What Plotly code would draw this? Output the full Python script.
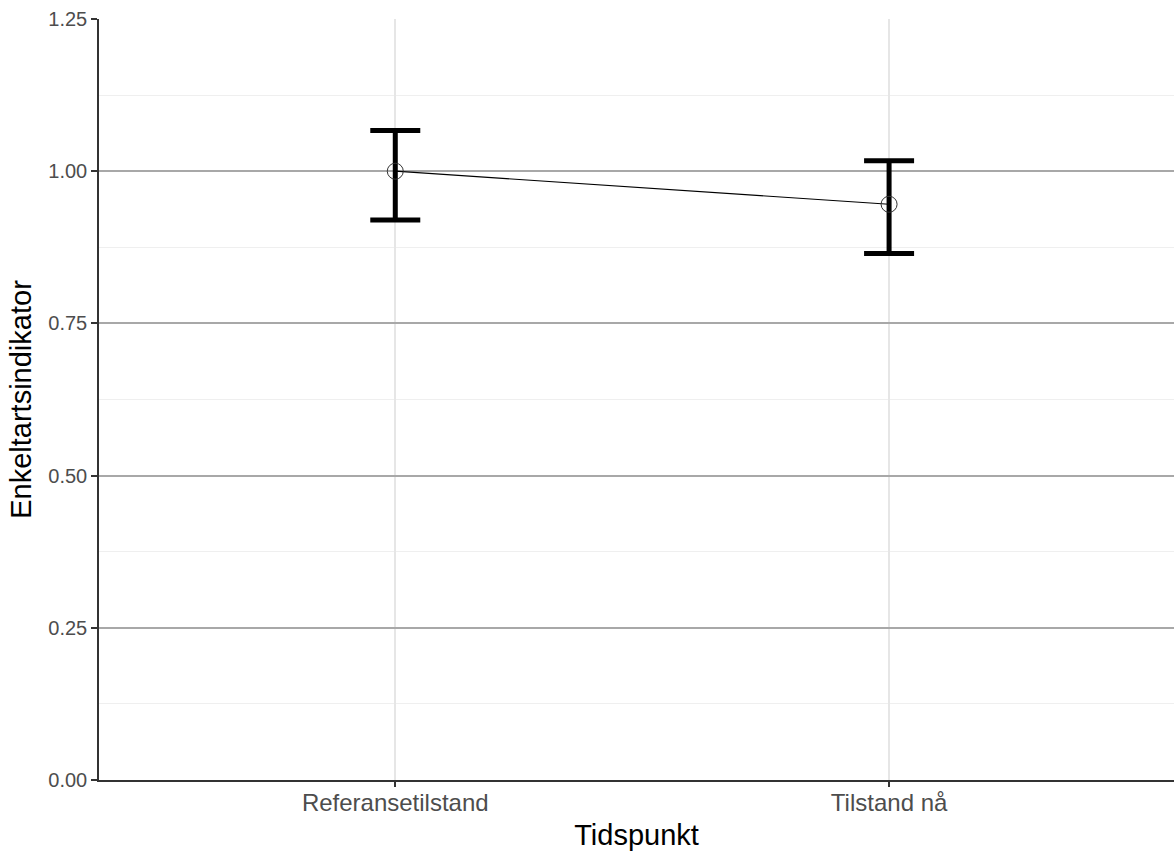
import plotly.graph_objects as go

categories = ["Referansetilstand", "Tilstand nå"]
values = [1.0, 0.9457]
upper = [1.067, 1.017]
lower = [0.920, 0.865]
y_ticks = [0.0, 0.25, 0.5, 0.75, 1.0, 1.25]
y_ticklabels = ["0.00", "0.25", "0.50", "0.75", "1.00", "1.25"]

err_plus = [u - v for u, v in zip(upper, values)]
err_minus = [v - l for v, l in zip(values, lower)]

FONT = "Liberation Sans, Arial, sans-serif"

fig = go.Figure()
fig.add_trace(go.Scatter(
    x=categories, y=values, mode="lines",
    line=dict(color="black", width=1.2), hoverinfo="skip", showlegend=False))
fig.add_trace(go.Scatter(
    x=categories, y=values, mode="markers",
    marker=dict(size=1, opacity=0),
    error_y=dict(type="data", array=err_plus, arrayminus=err_minus,
                 color="black", thickness=5, width=25),
    showlegend=False))
fig.add_trace(go.Scatter(
    x=categories, y=values, mode="markers",
    marker=dict(symbol="circle-open", size=16, color="#333333",
                line=dict(width=1, color="#333333")),
    showlegend=False))

fig.update_layout(
    width=1174, height=852,
    margin=dict(l=99, r=0, t=19, b=72),
    paper_bgcolor="white", plot_bgcolor="white",
    font=dict(family=FONT),
    xaxis=dict(
        type="category", range=[-0.6, 1.577],
        showgrid=True, gridcolor="#e6e6e6", gridwidth=1.5,
        showline=True, linecolor="#333333", linewidth=1.5,
        ticks="outside", ticklen=5, tickcolor="#333333", tickwidth=1.5,
        ticklabelstandoff=-5,
        tickfont=dict(size=24, color="#4d4d4d", family=FONT),
        title=dict(text="Tidspunkt", font=dict(size=29, color="black", family=FONT), standoff=10),
        zeroline=False,
    ),
    yaxis=dict(
        range=[0, 1.25], tickvals=y_ticks, ticktext=y_ticklabels,
        showgrid=True, gridcolor="#a8a8a8", gridwidth=1.5,
        minor=dict(dtick=0.125, tick0=0, showgrid=True, gridcolor="#efefef", gridwidth=1),
        showline=True, linecolor="#333333", linewidth=1.5,
        ticks="outside", ticklen=6, tickcolor="#333333", tickwidth=1.5,
        tickfont=dict(size=20, color="#4d4d4d", family=FONT),
        title=dict(text="Enkeltartsindikator", font=dict(size=29, color="black", family=FONT), standoff=8),
        zeroline=False,
    ),
)

fig.write_html("out.html", config={"displayModeBar": False},
               post_script="document.body.style.margin='0px';")
